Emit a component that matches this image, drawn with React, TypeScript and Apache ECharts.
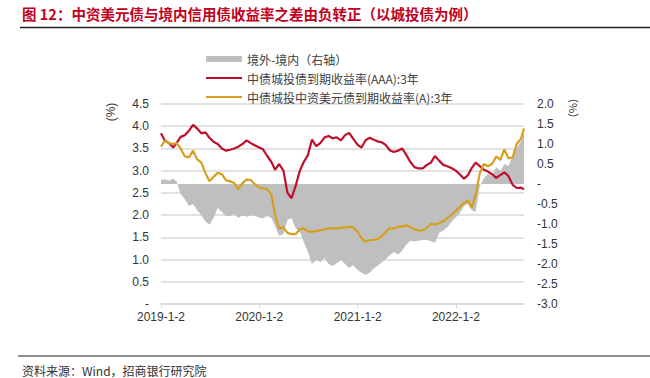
import React, { useEffect, useRef } from 'react';
import * as echarts from 'echarts';

const dates = [
  '2019-01-02','2019-01-16','2019-02-01','2019-02-16','2019-03-01','2019-03-16','2019-04-01','2019-04-16','2019-05-01','2019-05-16','2019-06-01','2019-06-16',
  '2019-07-01','2019-07-16','2019-08-01','2019-08-16','2019-09-01','2019-09-16','2019-10-01','2019-10-16','2019-11-01','2019-11-16','2019-12-01','2019-12-16',
  '2020-01-02','2020-01-16','2020-02-01','2020-02-16','2020-03-01','2020-03-16','2020-04-01','2020-04-16','2020-05-01','2020-05-16','2020-06-01','2020-06-16',
  '2020-07-01','2020-07-16','2020-08-01','2020-08-16','2020-09-01','2020-09-16','2020-10-01','2020-10-16','2020-11-01','2020-11-16','2020-12-01','2020-12-16',
  '2021-01-02','2021-01-16','2021-02-01','2021-02-16','2021-03-01','2021-03-16','2021-04-01','2021-04-16','2021-05-01','2021-05-16','2021-06-01','2021-06-16',
  '2021-07-01','2021-07-16','2021-08-01','2021-08-16','2021-09-01','2021-09-16','2021-10-01','2021-10-16','2021-11-01','2021-11-16','2021-12-01','2021-12-16',
  '2022-01-02','2022-01-16','2022-02-01','2022-02-16','2022-03-01','2022-03-16','2022-04-01','2022-04-16','2022-05-01','2022-05-16','2022-06-01','2022-06-16',
  '2022-07-01','2022-07-16','2022-08-01','2022-08-16','2022-09-01','2022-09-12'
];

// 中债城投债到期收益率(AAA):3年
const aaaYield = [
  3.84, 3.68, 3.62, 3.52, 3.62, 3.76, 3.80, 3.90, 4.03, 3.95, 3.84, 3.86,
  3.74, 3.65, 3.60, 3.50, 3.45, 3.47, 3.50, 3.54, 3.60, 3.68, 3.62, 3.57,
  3.52, 3.48, 3.33, 3.20, 3.02, 3.15, 3.00, 2.50, 2.38, 2.65, 3.00, 3.20,
  3.35, 3.70, 3.55, 3.62, 3.75, 3.78, 3.73, 3.75, 3.68, 3.80, 3.85, 3.72,
  3.58, 3.52, 3.69, 3.74, 3.70, 3.66, 3.64, 3.58, 3.46, 3.42, 3.45, 3.50,
  3.36, 3.20, 3.08, 3.05, 3.05, 3.13, 3.18, 3.33, 3.22, 3.13, 3.10, 3.06,
  3.00, 2.92, 2.82, 2.90, 3.05, 3.18, 3.10, 3.02, 2.98, 2.92, 2.84, 2.90,
  2.96, 2.88, 2.68, 2.61, 2.62, 2.58
];

// 中债城投中资美元债到期收益率(A):3年
const usdYield = [
  3.54, 3.67, 3.62, 3.60, 3.62, 3.50, 3.32, 3.30, 3.45, 3.26, 3.18, 2.95,
  2.76, 2.86, 2.95, 2.92, 2.78, 2.76, 2.72, 2.58, 2.72, 2.80, 2.79, 2.70,
  2.62, 2.60, 2.58, 2.47, 2.00, 1.70, 1.72, 1.60, 1.57, 1.57, 1.68, 1.70,
  1.63, 1.63, 1.64, 1.66, 1.68, 1.70, 1.70, 1.70, 1.72, 1.72, 1.74, 1.72,
  1.62, 1.48, 1.40, 1.44, 1.44, 1.46, 1.52, 1.62, 1.70, 1.70, 1.74, 1.74,
  1.77, 1.74, 1.68, 1.65, 1.66, 1.72, 1.80, 1.79, 1.82, 1.86, 1.93, 2.00,
  2.10, 2.18, 2.28, 2.33, 2.17, 2.45, 2.95, 3.15, 3.10, 3.15, 3.32, 3.24,
  3.48, 3.28, 3.30, 3.60, 3.72, 3.95
];

// 境外-境内（右轴）
const spread = [
  0.10, 0.12, 0.08, 0.14, 0.06, -0.25, -0.38, -0.55, -0.50, -0.65, -0.78, -0.94,
  -1.02, -0.85, -0.60, -0.70, -0.80, -0.80, -0.75, -0.85, -0.78, -0.82, -0.78, -0.80,
  -0.84, -0.86, -0.80, -0.85, -1.05, -1.30, -1.25, -0.90, -0.85, -1.10, -1.20, -1.45,
  -1.70, -2.00, -1.90, -1.95, -1.85, -2.00, -2.05, -1.98, -1.90, -2.00, -2.10, -2.03,
  -2.15, -2.22, -2.27, -2.22, -2.12, -2.05, -1.96, -1.88, -1.78, -1.70, -1.76, -1.67,
  -1.52, -1.42, -1.43, -1.42, -1.40, -1.40, -1.43, -1.47, -1.22, -1.16, -1.08, -0.95,
  -0.83, -0.73, -0.55, -0.50, -0.65, -0.70, -0.05, 0.15, 0.25, 0.20, 0.42, 0.32,
  0.50, 0.45, 0.70, 0.90, 1.06, 1.30
];

const xTickDates = ['2019-01-02', '2020-01-02', '2021-01-02', '2022-01-02'];
const xStart = '2019-01-02';
const xEnd = '2022-09-12';

const seriesNames = ['境外-境内（右轴）', '中债城投债到期收益率(AAA):3年', '中债城投中资美元债到期收益率(A):3年'];
const titleText = '图 12：中资美元债与境内信用债收益率之差由负转正（以城投债为例）';
const sourceText = '资料来源：Wind，招商银行研究院';

function toTs(s: string): number {
  const [y, m, d] = s.split('-').map(Number);
  return Date.UTC(y, m - 1, d);
}

const FONT = '"Liberation Sans", Arial, "Noto Sans CJK SC", sans-serif';
const CJK = '"Noto Sans CJK SC", "Liberation Sans", sans-serif';
const LINE_ICON = 'path://M0,0 L36,0 L36,2.2 L0,2.2 Z';

export default function App() {
  const ref = useRef<HTMLDivElement>(null);

  useEffect(() => {
    if (!ref.current) return;
    const chart = echarts.init(ref.current, undefined, { renderer: 'svg' });
    const tickTs = xTickDates.map(toTs);
    const mk = (vals: number[]) => dates.map((d, i) => [toTs(d), vals[i]]);

    chart.setOption({
      animation: false,
      backgroundColor: '#ffffff',
      textStyle: { fontFamily: FONT },
      grid: { left: 161, right: 126, top: 104, bottom: 74, containLabel: false },
      legend: {
        orient: 'vertical',
        left: 206,
        top: 52,
        padding: 0,
        itemGap: 5,
        itemWidth: 36,
        itemHeight: 6,
        symbolKeepAspect: true,
        textStyle: { fontSize: 12, color: '#404040', fontFamily: CJK, lineHeight: 14 },
        data: [
          { name: seriesNames[0], icon: 'rect' },
          { name: seriesNames[1], icon: LINE_ICON },
          { name: seriesNames[2], icon: LINE_ICON },
        ],
      },
      xAxis: {
        type: 'value',
        min: toTs(xStart),
        max: toTs(xEnd),
        axisLine: { show: true, lineStyle: { color: '#D9D9D9', width: 1.5 } },
        axisTick: { show: true, customValues: tickTs, length: 4, lineStyle: { color: '#D9D9D9' } },
        axisLabel: {
          customValues: tickTs,
          color: '#333333',
          fontSize: 12,
          margin: 7,
          formatter: (v: number) => {
            const d = new Date(v);
            return `${d.getUTCFullYear()}-${d.getUTCMonth() + 1}-${d.getUTCDate()}`;
          },
        },
        splitLine: { show: false },
      },
      yAxis: [
        {
          type: 'value',
          min: 0,
          max: 4.5,
          interval: 0.5,
          axisLine: { show: false },
          axisTick: { show: false },
          axisLabel: {
            color: '#333333',
            fontSize: 12,
            margin: 12,
            formatter: (v: number) => (v === 0 ? '-' : v.toFixed(1)),
          },
          splitLine: { show: true, lineStyle: { color: '#D9D9D9', width: 1.5 } },
        },
        {
          type: 'value',
          min: -3,
          max: 2,
          interval: 0.5,
          axisLine: { show: false },
          axisTick: { show: false },
          axisLabel: {
            color: '#333333',
            fontSize: 12,
            margin: 13,
            formatter: (v: number) => (v === 0 ? '-' : v.toFixed(1)),
          },
          splitLine: { show: false },
        },
      ],
      series: [
        {
          name: seriesNames[0],
          type: 'line',
          yAxisIndex: 1,
          data: mk(spread),
          symbol: 'none',
          lineStyle: { width: 0, color: '#BFBFBF' },
          itemStyle: { color: '#BFBFBF' },
          areaStyle: { color: '#BFBFBF', opacity: 1 },
          z: 1,
        },
        {
          name: seriesNames[1],
          type: 'line',
          yAxisIndex: 0,
          data: mk(aaaYield),
          symbol: 'none',
          lineStyle: { width: 2.2, color: '#C00F2C' },
          itemStyle: { color: '#C00F2C' },
          z: 3,
        },
        {
          name: seriesNames[2],
          type: 'line',
          yAxisIndex: 0,
          data: mk(usdYield),
          symbol: 'none',
          lineStyle: { width: 2.2, color: '#D4A01E' },
          itemStyle: { color: '#D4A01E' },
          z: 4,
        },
      ],
      graphic: [
        {
          type: 'text',
          left: 22,
          top: 6,
          style: { text: titleText, fill: '#C00020', fontSize: 14.5, fontWeight: 'bold', fontFamily: CJK },
        },
        {
          type: 'line',
          shape: { x1: 20, y1: 27.5, x2: 650, y2: 27.5 },
          style: { stroke: '#222222', lineWidth: 1.5 },
        },
        {
          type: 'text',
          x: 111,
          y: 112,
          rotation: Math.PI / 2,
          style: { text: '(%)', fill: '#333333', fontSize: 12, fontFamily: FONT, align: 'center', verticalAlign: 'middle' },
        },
        {
          type: 'text',
          x: 574,
          y: 108,
          rotation: -Math.PI / 2,
          style: { text: '（%）', fill: '#333333', fontSize: 11, fontFamily: CJK, align: 'center', verticalAlign: 'middle' },
        },
        {
          type: 'line',
          shape: { x1: 18, y1: 356, x2: 650, y2: 356 },
          style: { stroke: '#222222', lineWidth: 1.2 },
        },
        {
          type: 'text',
          left: 22,
          top: 363,
          style: { text: sourceText, fill: '#333333', fontSize: 12, fontFamily: CJK, lineHeight: 14 },
        },
      ],
    });

    return () => chart.dispose();
  }, []);

  return (
    <div
      ref={ref}
      style={{ position: 'fixed', left: 0, top: 0, width: 650, height: 378, background: '#fff' }}
    />
  );
}
